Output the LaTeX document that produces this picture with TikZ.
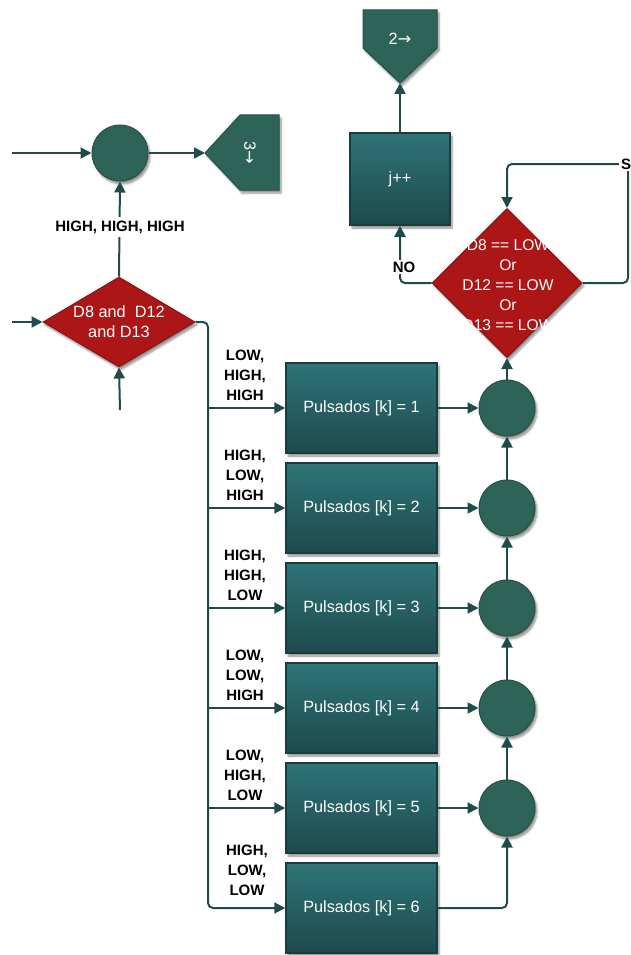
\documentclass[tikz,border=0pt]{standalone}
\usepackage{fontspec}
\setmainfont{Liberation Sans}
\newfontfamily\arrowfont{DejaVu Sans}
\usetikzlibrary{arrows.meta,shapes.geometric,shadows.blur}

\definecolor{lineC}{HTML}{1F4B4D}
\definecolor{greenC}{HTML}{2E6457}
\definecolor{greenD}{HTML}{244F45}
\definecolor{boxTop}{HTML}{2E7478}
\definecolor{boxBot}{HTML}{1E4A4D}
\definecolor{boxD}{HTML}{1A3C3E}
\definecolor{redC}{HTML}{AC1616}
\definecolor{redD}{HTML}{8C1111}

\newcommand\normtext{\fontsize{16.3}{20}\selectfont}
\newcommand\smalltext{\fontsize{15.6}{20}\selectfont}
\newcommand\condtext{\fontsize{15}{20}\selectfont\bfseries}
\newcommand\rarr{{\arrowfont →}}

\tikzset{
  conn/.style={draw=lineC, line width=2pt, -{Triangle[length=11pt,width=11pt]}},
  softshadow/.style={blur shadow={shadow xshift=2pt, shadow yshift=-3pt,
      shadow blur steps=6, shadow opacity=45}},
  junction/.style={circle, fill=greenC, draw=greenD, line width=1pt,
      minimum size=56pt, inner sep=0pt, softshadow},
  procbox/.style={rectangle, draw=boxD, line width=1.5pt, top color=boxTop,
      bottom color=boxBot, minimum width=151pt, minimum height=90pt,
      inner sep=0pt, softshadow, text=white, font=\normtext},
  decision/.style={diamond, fill=redC, draw=redD, line width=1pt,
      inner sep=0pt, softshadow},
  offpage/.style={fill=greenC, draw=greenD, line width=1pt, softshadow},
  intext/.style={text=white, font=\normtext, align=center, inner sep=0pt},
  cond/.style={font=\condtext, align=center, text=black, inner sep=1pt},
}

\begin{document}
\begin{tikzpicture}[x=1pt,y=-1pt]
\useasboundingbox (0,0) rectangle (630,955);

% merge point and off-page connector 3
\node[junction] (m) at (120,153) {};
\filldraw[offpage] (279,115) -- (279,190) -- (240,190) -- (205,153) -- (240,115) -- cycle;
\node[intext, rotate=-90] (go3) at (250,153) {3\rarr};
\coordinate (go3tip) at (205,153);

% first decision
\node[decision, minimum width=152pt, minimum height=90pt] (d1) at (119,322) {};
\node[intext] (d1t) at (d1.center) {D8 and\ \ D12\\and D13};

% off-page connector 2 and counter box
\filldraw[offpage] (363,10) -- (437,10) -- (437,48) -- (400,83) -- (363,48) -- cycle;
\node[intext] (go2) at (400,39) {2\rarr};
\coordinate (go2tip) at (400,83);
\node[procbox, minimum width=100pt, minimum height=92pt] (j) at (400,179) {j++};

% second decision
\node[decision, minimum width=150pt, minimum height=149pt] (d2) at (507,283) {};
\node[intext, font=\smalltext] (d2t) at (508,285) {D8 == LOW\\Or\\D12 == LOW\\Or\\D13 == LOW};

% assignment boxes and their junctions
\foreach \k in {1,...,6}
  \node[procbox] (p\k) at (361.5,{308+100*\k}) {Pulsados [k] = \k};
\foreach \k in {1,...,5}
  \node[junction] (c\k) at (507,{308+100*\k}) {};

% inputs
\coordinate (inM) at (12,153);
\coordinate (inD) at (12,322);
\coordinate (inB) at (120,410);
\draw[conn] (inM) -- (m.west);
\draw[conn] (inD) -- (d1.west);
\draw[conn] (inB) -- (d1.south);
\draw[conn] (m.east) -- (go3tip);

% all HIGH
\draw[conn] (d1.north) -- (m.south);
\node[cond, fill=white, inner sep=4pt] (lhhh) at (120,227) {HIGH, HIGH, HIGH};

% branch trunk
\coordinate (trunk) at (208,322);
\draw[conn, rounded corners=5pt] (d1.east) -- (trunk) |- (p6.west);
\foreach \k in {1,...,5}
  \draw[conn] (trunk |- p\k.west) -- (p\k.west);

\node[cond] (l1) at (245,375) {LOW,\\HIGH,\\HIGH};
\node[cond] (l2) at (245,475) {HIGH,\\LOW,\\HIGH};
\node[cond] (l3) at (245,575) {HIGH,\\HIGH,\\LOW};
\node[cond] (l4) at (245,675) {LOW,\\LOW,\\HIGH};
\node[cond] (l5) at (245,775) {LOW,\\HIGH,\\LOW};
\node[cond] (l6) at (247,870) {HIGH,\\LOW,\\LOW};

% boxes into junctions, junction chain upwards
\foreach \k in {1,...,5}
  \draw[conn] (p\k.east) -- (c\k.west);
\draw[conn, rounded corners=5pt] (p6.east) -| (c5.south);
\draw[conn] (c5.north) -- (c4.south);
\draw[conn] (c4.north) -- (c3.south);
\draw[conn] (c3.north) -- (c2.south);
\draw[conn] (c2.north) -- (c1.south);
\draw[conn] (c1.north) -- (d2.south);

% loop back while a button is still pressed
\coordinate (sCorner) at (628,164);
\draw[conn, rounded corners=5pt] (d2.east) -| (sCorner) -| (d2.north);
\node[cond, fill=white, inner sep=2pt] (ls) at (626,164) {S};

% exit: increment and leave
\draw[conn, rounded corners=5pt] (d2.west) -| (j.south);
\node[cond, fill=white, inner sep=2pt] (lno) at (404,267) {NO};
\draw[conn] (j.north) -- (go2tip);
\end{tikzpicture}
\end{document}
